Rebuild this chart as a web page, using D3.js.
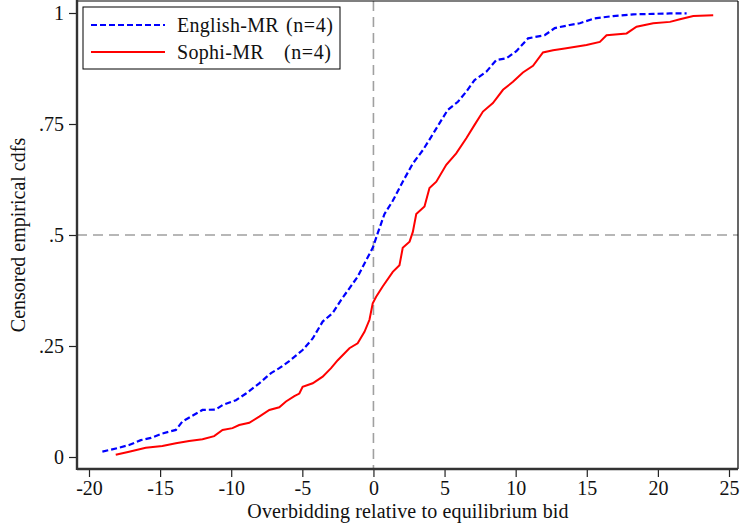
<!DOCTYPE html>
<html><head><meta charset="utf-8">
<script src="https://cdn.jsdelivr.net/npm/d3@7"></script>
<style>body{margin:0;background:#fff}svg{display:block}</style>
</head><body><svg id="c" width="740" height="526"></svg>
<script>
const xTicks = [-20,-15,-10,-5,0,5,10,15,20,25];
const yTicks = [0,0.25,0.5,0.75,1];
const yTickLabels = ["0",".25",".5",".75","1"];
const seriesNames = ["English-MR","Sophi-MR"];
const seriesN = ["(n=4)","(n=4)"];
const englishX = [-19.06,-18.01,-17.18,-16.36,-15.65,-14.84,-13.89,-13.43,-12.61,-12.02,-11.08,-10.61,-9.67,-8.96,-8.03,-7.2,-6.62,-5.92,-4.98,-4.27,-3.57,-2.87,-2.27,-1.69,-1.11,-0.63,-0.05,0.3,0.77,1.36,2.06,2.77,3.47,4.06,4.65,5.23,5.94,6.53,7.11,7.94,8.64,9.35,10.05,10.87,12.04,12.75,13.8,14.51,15.56,16.85,18.26,19.67,20.85,22.02];
const englishY = [0.012,0.02,0.027,0.038,0.043,0.053,0.061,0.08,0.095,0.106,0.107,0.117,0.128,0.143,0.166,0.189,0.2,0.216,0.241,0.267,0.305,0.324,0.354,0.38,0.406,0.436,0.471,0.504,0.547,0.577,0.62,0.661,0.691,0.721,0.752,0.782,0.8,0.823,0.849,0.868,0.894,0.898,0.914,0.943,0.95,0.966,0.973,0.977,0.988,0.993,0.997,0.998,0.999,0.999];
const sophiX = [-18.12,-17.18,-16.01,-14.84,-13.89,-12.96,-12.02,-11.2,-10.61,-9.91,-9.44,-8.73,-8.03,-7.32,-6.62,-6.15,-5.56,-5.21,-4.98,-4.27,-3.57,-2.98,-2.51,-1.69,-1.11,-0.63,-0.28,-0.05,0.19,0.65,1.36,1.83,2.06,2.54,2.77,3.01,3.59,3.94,4.42,5.12,5.82,6.53,7.11,7.7,8.4,9.11,9.81,10.51,11.22,11.92,12.63,13.45,14.98,15.92,16.39,17.8,18.5,19.67,20.85,21.55,22.49,23.89];
const sophiY = [0.005,0.012,0.021,0.025,0.031,0.036,0.04,0.047,0.061,0.065,0.072,0.077,0.091,0.106,0.112,0.125,0.137,0.143,0.158,0.166,0.181,0.2,0.218,0.245,0.256,0.282,0.309,0.346,0.361,0.384,0.417,0.432,0.471,0.485,0.507,0.547,0.564,0.606,0.62,0.658,0.684,0.718,0.748,0.778,0.797,0.827,0.845,0.866,0.881,0.911,0.916,0.92,0.928,0.935,0.95,0.954,0.969,0.977,0.98,0.986,0.993,0.995];

const FONT = "'Liberation Serif', 'Times New Roman', 'DejaVu Serif', serif";
const FS = 20;
const svg = d3.select("#c");
const x = d3.scaleLinear().domain([-20,25]).range([89,729]);
const y = d3.scaleLinear().domain([0,1]).range([457,13]);
const L = 77, R = 738, T = 1, B = 469;

// reference lines
svg.append("line").attr("x1",x(0)).attr("x2",x(0)).attr("y1",T).attr("y2",B)
  .attr("stroke","#a0a0a0").attr("stroke-width",1.6).attr("stroke-dasharray","10,6");
svg.append("line").attr("x1",L).attr("x2",R).attr("y1",y(0.5)).attr("y2",y(0.5))
  .attr("stroke","#a0a0a0").attr("stroke-width",1.6).attr("stroke-dasharray","10,6");

// frame
svg.append("line").attr("x1",L).attr("x2",R).attr("y1",T).attr("y2",T).attr("stroke","#000").attr("stroke-width",1.2);
svg.append("line").attr("x1",R).attr("x2",R).attr("y1",T).attr("y2",B).attr("stroke","#000").attr("stroke-width",1.2);

const line = d3.line().x(d=>x(d[0])).y(d=>y(d[1]));
const eng = englishX.map((v,i)=>[v,englishY[i]]);
const sop = sophiX.map((v,i)=>[v,sophiY[i]]);
svg.append("path").attr("d",line(sop)).attr("fill","none").attr("stroke","#ff0000").attr("stroke-width",2);
svg.append("path").attr("d",line(eng)).attr("fill","none").attr("stroke","#0000ff").attr("stroke-width",2.2).attr("stroke-dasharray","6,3");

// axes
const xa = svg.append("g").attr("transform",`translate(0,${B})`)
  .call(d3.axisBottom(x).tickValues(xTicks).tickSize(8).tickPadding(4).tickFormat(d=>d));
xa.attr("font-family",FONT).attr("font-size",FS);
xa.select(".domain").remove();
xa.selectAll("text").attr("font-family",FONT).attr("font-size",FS).attr("fill","#111");
xa.selectAll("line").attr("stroke","#222").attr("stroke-width",1.2);
const ya = svg.append("g").attr("transform",`translate(${L},0)`)
  .call(d3.axisLeft(y).tickValues(yTicks).tickSize(8).tickPadding(5).tickFormat((d,i)=>yTickLabels[i]));
ya.attr("font-family",FONT).attr("font-size",FS);
ya.select(".domain").remove();
ya.selectAll("text").attr("font-family",FONT).attr("font-size",FS).attr("fill","#111");
ya.selectAll("line").attr("stroke","#222").attr("stroke-width",1.2);
svg.append("line").attr("x1",L).attr("x2",R).attr("y1",B).attr("y2",B).attr("stroke","#333").attr("stroke-width",2.4);
svg.append("line").attr("x1",L).attr("x2",L).attr("y1",T-1).attr("y2",B+1).attr("stroke","#333").attr("stroke-width",2.4);

function txt(xx,yy,s){
  return svg.append("text").attr("x",xx).attr("y",yy).attr("font-family",FONT).attr("font-size",FS).attr("fill","#111").text(s);
}
// labels
txt(408,518,"Overbidding relative to equilibrium bid").attr("text-anchor","middle").attr("letter-spacing",0.15);
svg.append("text").attr("transform",`translate(25,235) rotate(-90)`).attr("text-anchor","middle")
  .attr("font-family",FONT).attr("font-size",FS).attr("fill","#111").text("Censored empirical cdfs");

// legend
svg.append("rect").attr("x",83).attr("y",7).attr("width",257).attr("height",62).attr("fill","#fff").attr("stroke","#000").attr("stroke-width",1);
const lg = [{c:"#0000ff",dash:"6,3",yy:25},{c:"#ff0000",dash:null,yy:52}];
lg.forEach((g,i)=>{
  const l = svg.append("line").attr("x1",91).attr("x2",165).attr("y1",g.yy).attr("y2",g.yy).attr("stroke",g.c).attr("stroke-width",2);
  if(g.dash) l.attr("stroke-dasharray",g.dash);
  txt(177,g.yy+7,seriesNames[i]).attr("letter-spacing",0.3);
  txt(i===0?286:284,g.yy+7,seriesN[i]).attr("letter-spacing",0.6);
});
</script></body></html>
